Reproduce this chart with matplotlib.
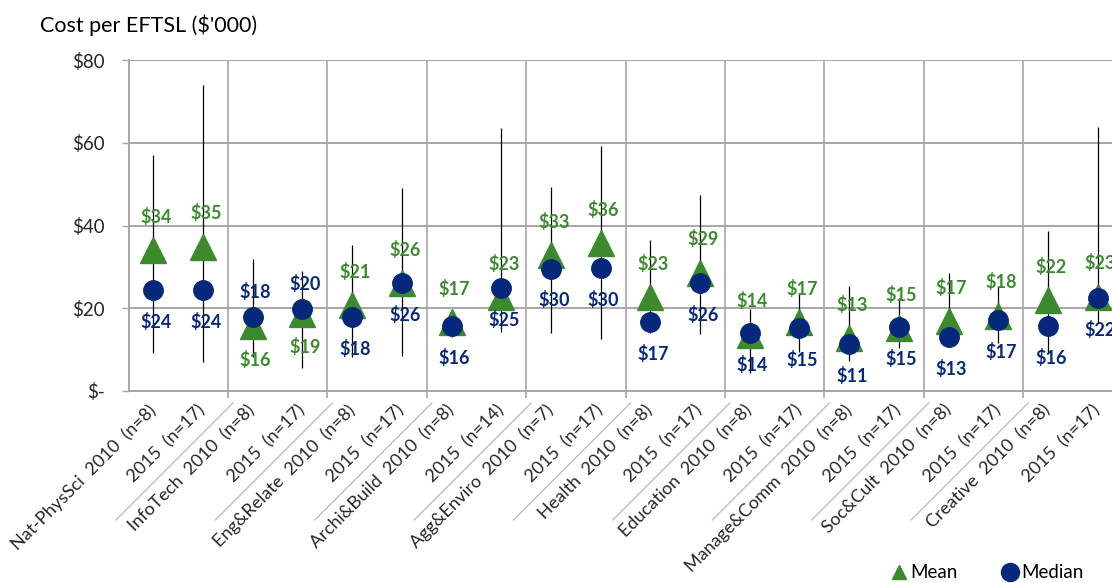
import matplotlib
matplotlib.use("Agg")
import matplotlib.pyplot as plt
from matplotlib.lines import Line2D
import numpy as np

plt.rcParams['font.family'] = ['Lato', 'DejaVu Sans']

categories = [
    "Nat-PhysSci  2010  (n=8)", "2015  (n=17)",
    "InfoTech  2010  (n=8)", "2015  (n=17)",
    "Eng&Relate  2010  (n=8)", "2015  (n=17)",
    "Archi&Build  2010  (n=8)", "2015  (n=14)",
    "Agg&Enviro  2010  (n=7)", "2015  (n=17)",
    "Health  2010  (n=8)", "2015  (n=17)",
    "Education  2010  (n=8)", "2015  (n=17)",
    "Manage&Comm  2010  (n=8)", "2015  (n=17)",
    "Soc&Cult  2010  (n=8)", "2015  (n=17)",
    "Creative  2010  (n=8)", "2015  (n=17)",
]
means = [34.0, 34.9, 15.6, 18.7, 20.8, 26.0, 16.7, 22.7, 32.8, 35.8,
         22.6, 28.6, 13.6, 16.6, 12.8, 15.2, 16.8, 18.2, 21.9, 22.8]
medians = [24.4, 24.4, 17.8, 19.7, 17.8, 26.0, 15.8, 24.8, 29.6, 29.8,
           16.7, 26.2, 13.9, 15.3, 11.3, 15.4, 13.1, 17.2, 15.8, 22.4]
highs = [57.0, 74.0, 31.9, 29.1, 35.3, 49.0, 19.0, 63.5, 49.4, 59.3,
         36.4, 47.4, 19.8, 23.7, 25.4, 22.4, 28.5, 25.2, 38.7, 63.7]
lows = [9.1, 6.9, 8.3, 5.5, 8.1, 8.5, 13.1, 14.3, 14.1, 12.6,
        13.9, 13.8, 4.3, 9.5, 7.3, 10.3, 11.5, 11.6, 9.4, 16.4]
# label placement: +1 above, -1 below
mean_label_side = [1, 1, -1, -1] + [1] * 16
median_label_side = [-1, -1, 1, 1] + [-1] * 16
yticks = [0, 20, 40, 60, 80]
ytick_labels = ["$-", "$20", "$40", "$60", "$80"]

GREEN = "#3b8a2e"
NAVY = "#06287a"
GRID = "#a6a6a6"
TEXT = "#262626"

W, H = 1112, 583
fig = plt.figure(figsize=(W / 100, H / 100), dpi=100)
ax_left = 128.5 / W
ax_w = 994 / W
ax_bottom = (H - 391) / H
ax_h = 331 / H
ax = fig.add_axes([ax_left, ax_bottom, ax_w, ax_h])

x = np.arange(len(categories))
ax.set_xlim(-0.5, len(categories) - 0.5)
ax.set_ylim(0, 80)

ax.vlines(x, lows, highs, color="black", lw=0.9, zorder=2)
ax.plot(x, means, linestyle="none", marker="^", markersize=19, color=GREEN,
        zorder=3, label="Mean")
ax.plot(x, medians, linestyle="none", marker="o", markersize=14, color=NAVY,
        zorder=4, label="Median")

for xi, v, s in zip(x, means, mean_label_side):
    ax.annotate(f"${int(round(v))}", (xi, v), xytext=(2, 24 * s),
                textcoords="offset points", ha="center", va="center",
                fontsize=13, fontweight="bold", color=GREEN, zorder=5)
for xi, v, s in zip(x, medians, median_label_side):
    off = 23 if s < 0 else 18
    ax.annotate(f"${int(round(v))}", (xi, v), xytext=(2, off * s),
                textcoords="offset points", ha="center", va="center",
                fontsize=13, fontweight="bold", color=NAVY, zorder=5)

# axes styling
ax.set_yticks(yticks)
ax.set_yticklabels(ytick_labels, fontsize=13.5, color=TEXT)
ax.tick_params(axis="y", length=5, width=1, color=GRID, pad=12)
ax.set_xticks(x)
ax.set_xticklabels(categories, rotation=45, ha="right", va="center",
                   rotation_mode="anchor", fontsize=13, color=TEXT)
ax.tick_params(axis="x", which="major", length=0, pad=12)
bounds = np.arange(1.5, len(categories) - 1, 2)
ax.set_xticks(bounds, minor=True)
ax.tick_params(axis="x", which="minor", length=5, width=1.2, color=GRID)
ax.grid(axis="y", color=GRID, lw=1.4)
ax.grid(axis="x", which="minor", color=GRID, lw=1.2)
ax.set_axisbelow(True)
for side in ["top", "right"]:
    ax.spines[side].set_visible(False)
for side in ["left", "bottom"]:
    ax.spines[side].set_color(GRID)
    ax.spines[side].set_linewidth(1.4)

# diagonal separators in the category label area
for b in bounds:
    bx, by = ax.transData.transform((b, 0))
    fig.add_artist(Line2D([bx + 5, bx + 5 - 117], [by - 12, by - 12 - 117],
                          transform=None, color="#bfbfbf", lw=1))

fig.text(40 / W, 1 - 25 / H, "Cost per EFTSL ($'000)", fontsize=15.5,
         ha="left", va="center", color="black")

handles = [Line2D([], [], linestyle="none", marker="^", markersize=10, color=GREEN),
           Line2D([], [], linestyle="none", marker="o", markersize=13, color=NAVY)]
fig.legend(handles, ["Mean", "Median"], loc="center", ncol=2, frameon=False,
           bbox_to_anchor=(986 / W, 1 - 573 / H), fontsize=13.5,
           handletextpad=0.0, columnspacing=2.2, handlelength=1.2)

fig.savefig("out.png", dpi=100)
